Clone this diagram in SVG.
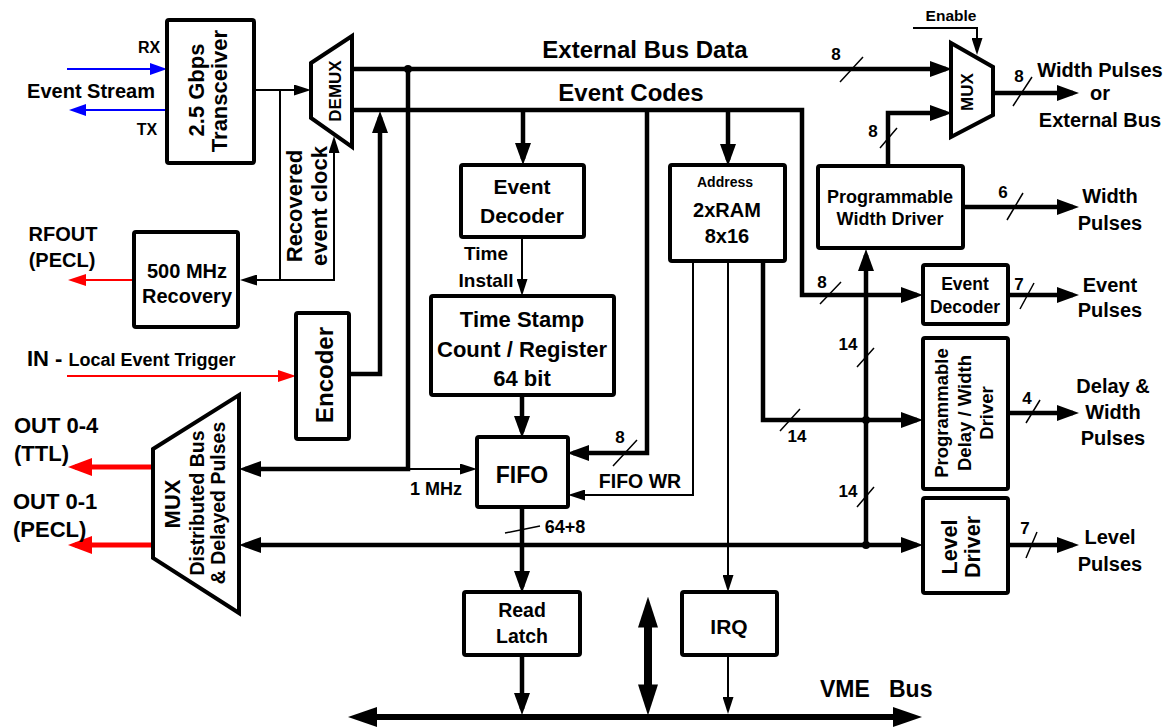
<svg xmlns="http://www.w3.org/2000/svg" width="1165" height="727" viewBox="0 0 1165 727">
<style>
text{font-family:"Liberation Sans",Arial,sans-serif;font-weight:bold;fill:#000}
.box{fill:#fff;stroke:#000;stroke-width:4}
.tk{fill:none;stroke:#000;stroke-width:4.5}
.tn{fill:none;stroke:#000;stroke-width:2}
.sl{fill:none;stroke:#000;stroke-width:1.5}
.mid{text-anchor:middle}
</style>
<defs>
<marker id="A" viewBox="0 0 22 16" refX="16" refY="8" markerWidth="22" markerHeight="16" markerUnits="userSpaceOnUse" orient="auto-start-reverse"><path d="M0,0 L22,8 L0,16 z" fill="#000"/></marker>
<marker id="a" viewBox="0 0 17 11" refX="14" refY="5.5" markerWidth="17" markerHeight="11" markerUnits="userSpaceOnUse" orient="auto-start-reverse"><path d="M0,0 L17,5.5 L0,11 z" fill="#000"/></marker>
<marker id="b" viewBox="0 0 17 12" refX="14" refY="6" markerWidth="17" markerHeight="12" markerUnits="userSpaceOnUse" orient="auto"><path d="M0,0 L17,6 L0,12 z" fill="#0000ff"/></marker>
<marker id="r" viewBox="0 0 18 12" refX="15" refY="6" markerWidth="18" markerHeight="12" markerUnits="userSpaceOnUse" orient="auto"><path d="M0,0 L18,6 L0,12 z" fill="#ff0000"/></marker>
<marker id="R" viewBox="0 0 24 18" refX="17" refY="9" markerWidth="24" markerHeight="18" markerUnits="userSpaceOnUse" orient="auto"><path d="M0,0 L24,9 L0,18 z" fill="#ff0000"/></marker>
<marker id="V" viewBox="0 0 29 20" refX="20" refY="10" markerWidth="29" markerHeight="20" markerUnits="userSpaceOnUse" orient="auto-start-reverse"><path d="M0,0 L29,10 L0,20 z" fill="#000"/></marker>
<marker id="D" viewBox="0 0 31 20" refX="18.6" refY="10" markerWidth="31" markerHeight="20" markerUnits="userSpaceOnUse" orient="auto-start-reverse"><path d="M0,0 L31,10 L0,20 z" fill="#000"/></marker>
</defs>
<rect width="1165" height="727" fill="#fff"/>

<g id="connectors">
<!-- thick buses -->
<path class="tk" d="M352,69 H946" marker-end="url(#A)"/>
<path class="tk" d="M352,110 H802 V295 H917" marker-end="url(#A)"/>
<path class="tk" d="M408,69 V469 H245" marker-end="url(#A)"/>
<path class="tk" d="M523,110 V159" marker-end="url(#A)"/>
<path class="tk" d="M647,110 V453 H573" marker-end="url(#A)"/>
<path class="tk" d="M728,110 V160" marker-end="url(#A)"/>
<path class="tk" d="M349,374 H380 V117" marker-end="url(#A)"/>
<path class="tk" d="M522,395 V432" marker-end="url(#A)"/>
<path class="tk" d="M522,507 V587" marker-end="url(#A)"/>
<path class="tk" d="M522,655 V709" marker-end="url(#A)"/>
<path class="tk" d="M763,261 V420 H917" marker-end="url(#A)"/>
<path class="tk" d="M866,545 V255" marker-end="url(#A)"/>
<path class="tk" d="M245,545 H917" marker-start="url(#A)" marker-end="url(#A)"/>
<path class="tk" d="M888,166 V113 H946" marker-end="url(#A)"/>
<path class="tk" d="M993,93 H1073" marker-end="url(#A)"/>
<path class="tk" d="M963,207 H1073" marker-end="url(#A)"/>
<path class="tk" d="M1008,295 H1073" marker-end="url(#A)"/>
<path class="tk" d="M1008,413 H1073" marker-end="url(#A)"/>
<path class="tk" d="M1008,545 H1073" marker-end="url(#A)"/>
<circle cx="408" cy="69" r="4"/>
<circle cx="866" cy="420" r="4"/>
<circle cx="866" cy="545" r="4"/>
<!-- thin lines -->
<path class="tn" d="M408,469 H474" marker-end="url(#a)"/>
<path class="tn" d="M254,90 H308" marker-end="url(#a)"/>
<path class="tn" d="M280,90 V280"/>
<path class="tn" d="M334,139 V280 H243" marker-start="url(#a)" marker-end="url(#a)"/>
<path class="tn" d="M522,237 V293" marker-end="url(#a)"/>
<path class="tn" d="M693,261 V495 H571" marker-end="url(#a)"/>
<path class="tn" d="M728,261 V589" marker-end="url(#a)"/>
<path class="tn" d="M728,655 V711" marker-end="url(#a)"/>
<path class="tn" d="M913,28 H977 V52" marker-end="url(#a)"/>
<!-- coloured -->
<path d="M67,69 H164" fill="none" stroke="#0000ff" stroke-width="2" marker-end="url(#b)"/>
<path d="M167,110 H72" fill="none" stroke="#0000ff" stroke-width="2" marker-end="url(#b)"/>
<path d="M134,280 H71" fill="none" stroke="#ff0000" stroke-width="2" marker-end="url(#r)"/>
<path d="M67,376 H293" fill="none" stroke="#ff0000" stroke-width="2" marker-end="url(#r)"/>
<path d="M153,467 H75" fill="none" stroke="#ff0000" stroke-width="5" marker-end="url(#R)"/>
<path d="M153,545 H75" fill="none" stroke="#ff0000" stroke-width="5" marker-end="url(#R)"/>
<!-- VME bus -->
<path d="M357,717 H913" fill="none" stroke="#000" stroke-width="6" marker-start="url(#V)" marker-end="url(#V)"/>
<path d="M648,609 V703" fill="none" stroke="#000" stroke-width="8" marker-start="url(#D)" marker-end="url(#D)"/>
<!-- bus width slashes -->
<path class="sl" d="M840,82 L863,57 M880,148 L897,128 M1013,106 L1032,77 M1007,220 L1023,193 M820,304 L841,282 M1020,309 L1034,283 M857,367 L874,348 M857,507 L874,487 M780,431 L800,409 M1026,423 L1040,400 M1026,558 L1037,532 M613,466 L637,440 M505,533 L540,526"/>
<!-- connector labels -->
<text x="149" y="53" class="mid" font-size="16">RX</text>
<text x="147" y="135" class="mid" font-size="16">TX</text>
<text x="91" y="98" class="mid" font-size="20">Event Stream</text>
<text x="645" y="58" class="mid" font-size="24">External Bus Data</text>
<text x="631" y="101" class="mid" font-size="24">Event Codes</text>
<text class="mid" font-size="19"><tspan x="486" y="260">Time</tspan><tspan x="486" y="287">Install</tspan></text>
<text transform="translate(302,206) rotate(-90)" class="mid" font-size="22">Recovered</text>
<text transform="translate(327,206) rotate(-90)" class="mid" font-size="22">event clock</text>
<text x="436" y="495" class="mid" font-size="18">1 MHz</text>
<text x="640" y="488" class="mid" font-size="19.5">FIFO WR</text>
<text x="620" y="443" class="mid" font-size="17">8</text>
<text x="565" y="533" class="mid" font-size="18">64+8</text>
<text x="797" y="442" class="mid" font-size="17">14</text>
<text x="848" y="350" class="mid" font-size="17">14</text>
<text x="848" y="497" class="mid" font-size="17">14</text>
<text x="822" y="288" class="mid" font-size="17">8</text>
<text x="836" y="60" class="mid" font-size="17">8</text>
<text x="873" y="137" class="mid" font-size="17">8</text>
<text x="1019" y="82" class="mid" font-size="17">8</text>
<text x="1003" y="198" class="mid" font-size="17">6</text>
<text x="1019" y="290" class="mid" font-size="17">7</text>
<text x="1027" y="404" class="mid" font-size="17">4</text>
<text x="1025" y="534" class="mid" font-size="17">7</text>
<text x="951" y="21" class="mid" font-size="15.5">Enable</text>
<text x="820" y="697" font-size="23" xml:space="preserve">VME   Bus</text>
<text x="63" y="241" class="mid" font-size="20">RFOUT</text>
<text x="62" y="267" class="mid" font-size="20">(PECL)</text>
<text x="27" y="366" font-size="22">IN - <tspan font-size="18">Local Event Trigger</tspan></text>
<text x="14" y="433" font-size="22">OUT 0-4</text>
<text x="14" y="461" font-size="22">(TTL)</text>
<text x="13" y="509" font-size="22">OUT 0-1</text>
<text x="13" y="537" font-size="22">(PECL)</text>
<text class="mid" font-size="20"><tspan x="1100" y="77">Width Pulses</tspan><tspan x="1100" y="100">or</tspan><tspan x="1100" y="127">External Bus</tspan></text>
<text class="mid" font-size="20"><tspan x="1110" y="203">Width</tspan><tspan x="1110" y="230">Pulses</tspan></text>
<text class="mid" font-size="20"><tspan x="1110" y="292">Event</tspan><tspan x="1110" y="317">Pulses</tspan></text>
<text class="mid" font-size="20"><tspan x="1113" y="393">Delay &amp;</tspan><tspan x="1113" y="419">Width</tspan><tspan x="1113" y="445">Pulses</tspan></text>
<text class="mid" font-size="20"><tspan x="1110" y="544">Level</tspan><tspan x="1110" y="571">Pulses</tspan></text>
</g>

<g id="transceiver">
<rect class="box" x="167" y="20" width="87" height="143" rx="2"/>
<text transform="translate(204,90) rotate(-90)" class="mid" font-size="22">2.5 Gbps</text>
<text transform="translate(227,91) rotate(-90)" class="mid" font-size="22">Transceiver</text>
</g>
<g id="demux">
<polygon class="box" points="311,63 352,36 352,147 311,118"/>
<text transform="translate(341,91) rotate(-90)" class="mid" font-size="17">DEMUX</text>
</g>
<g id="recovery">
<rect class="box" x="134" y="232" width="104" height="95" rx="2"/>
<text class="mid" font-size="20"><tspan x="187" y="278">500 MHz</tspan><tspan x="187" y="303">Recovery</tspan></text>
</g>
<g id="encoder">
<rect class="box" x="296" y="313" width="53" height="126" rx="2"/>
<text transform="translate(333,375) rotate(-90)" class="mid" font-size="24">Encoder</text>
</g>
<g id="mux-left">
<polygon class="box" points="153,449 239,395 239,613 153,558"/>
<text transform="translate(180,504) rotate(-90)" class="mid" font-size="22">MUX</text>
<text transform="translate(204,503) rotate(-90)" class="mid" font-size="19.5">Distributed Bus</text>
<text transform="translate(225,503) rotate(-90)" class="mid" font-size="19.5">&amp; Delayed Pulses</text>
</g>
<g id="event-decoder">
<rect class="box" x="461" y="165" width="123" height="72" rx="2"/>
<text class="mid" font-size="21"><tspan x="522" y="194">Event</tspan><tspan x="522" y="223">Decoder</tspan></text>
</g>
<g id="time-stamp">
<rect class="box" x="431" y="296" width="183" height="99" rx="2"/>
<text class="mid" font-size="22"><tspan x="522" y="327">Time Stamp</tspan><tspan x="522" y="357">Count / Register</tspan><tspan x="522" y="386">64 bit</tspan></text>
</g>
<g id="fifo">
<rect class="box" x="477" y="437" width="91" height="70" rx="2"/>
<text x="522" y="483" class="mid" font-size="23">FIFO</text>
</g>
<g id="read-latch">
<rect class="box" x="464" y="592" width="116" height="63" rx="2"/>
<text class="mid" font-size="19.5"><tspan x="522" y="617">Read</tspan><tspan x="522" y="643">Latch</tspan></text>
</g>
<g id="ram">
<rect class="box" x="670" y="165" width="115" height="96" rx="2"/>
<text x="725" y="187" class="mid" font-size="14">Address</text>
<text class="mid" font-size="20"><tspan x="727" y="217">2xRAM</tspan><tspan x="727" y="243">8x16</tspan></text>
</g>
<g id="irq">
<rect class="box" x="682" y="592" width="95" height="63" rx="2"/>
<text x="729" y="634" class="mid" font-size="21">IRQ</text>
</g>
<g id="mux-right">
<polygon class="box" points="951,43 993,67 993,115 951,137"/>
<text transform="translate(973,92) rotate(-90)" class="mid" font-size="17">MUX</text>
</g>
<g id="width-driver">
<rect class="box" x="818" y="166" width="145" height="82" rx="2"/>
<text class="mid" font-size="18"><tspan x="890" y="203">Programmable</tspan><tspan x="890" y="225">Width Driver</tspan></text>
</g>
<g id="event-decoder-2">
<rect class="box" x="923" y="265" width="85" height="59" rx="2"/>
<text class="mid" font-size="17.5"><tspan x="965" y="290">Event</tspan><tspan x="965" y="313">Decoder</tspan></text>
</g>
<g id="delay-width-driver">
<rect class="box" x="923" y="338" width="85" height="151" rx="2"/>
<text transform="translate(948,413) rotate(-90)" class="mid" font-size="18.5">Programmable</text>
<text transform="translate(971,413) rotate(-90)" class="mid" font-size="18.5">Delay / Width</text>
<text transform="translate(993,413) rotate(-90)" class="mid" font-size="18.5">Driver</text>
</g>
<g id="level-driver">
<rect class="box" x="923" y="498" width="85" height="95" rx="2"/>
<text transform="translate(957,547) rotate(-90)" class="mid" font-size="21.5">Level</text>
<text transform="translate(980,547) rotate(-90)" class="mid" font-size="21.5">Driver</text>
</g>
</svg>
